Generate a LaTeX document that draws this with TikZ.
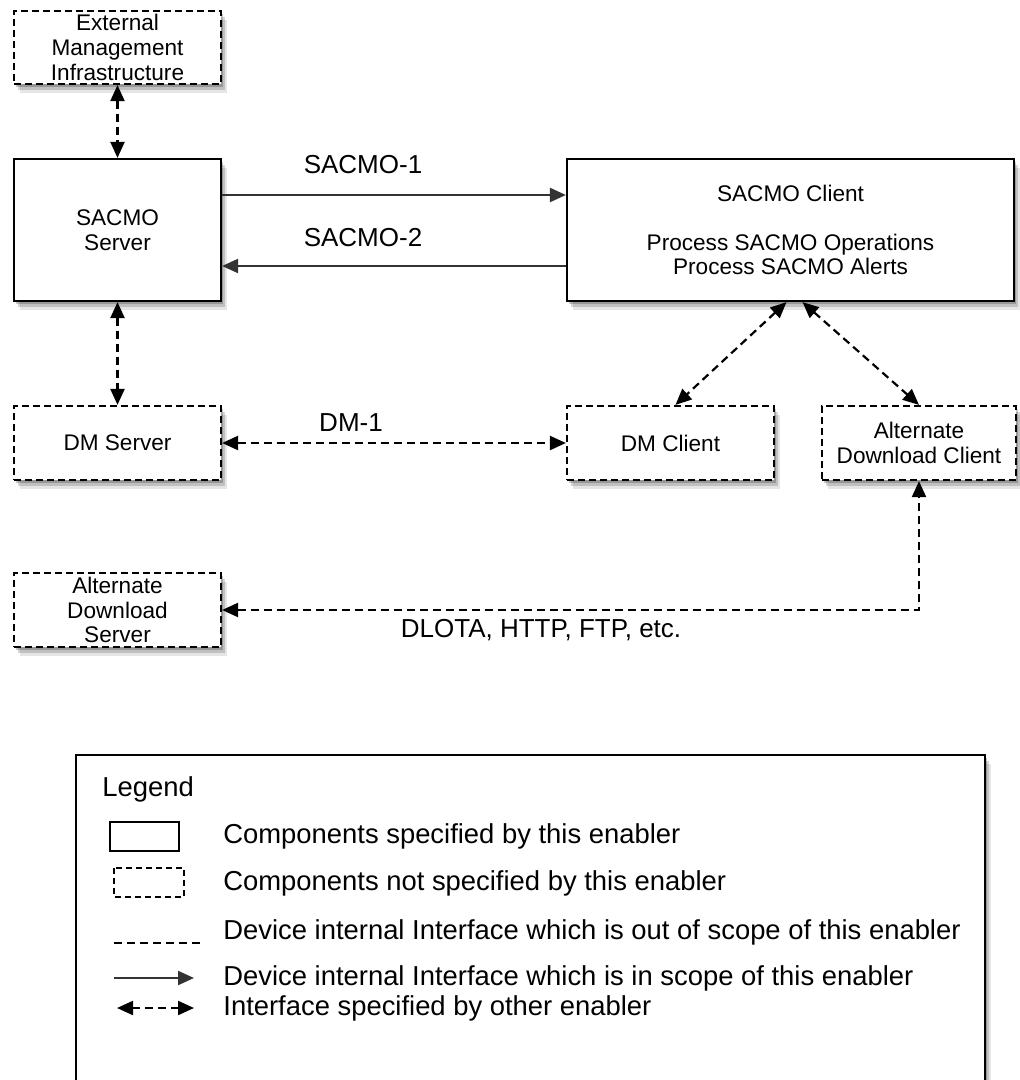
\documentclass[tikz,border=0pt]{standalone}
\usepackage{fontspec}
\setmainfont{Liberation Sans}
\usetikzlibrary{positioning,arrows.meta,calc,shadows}
\tikzset{
  boxfont/.style={font=\fontsize{11.3}{12.3}\selectfont},
  softshade/.style={
    drop shadow={shadow xshift=1pt, shadow yshift=-1.5pt, opacity=.22, fill=black},
    drop shadow={shadow xshift=2pt, shadow yshift=-3pt, opacity=.16, fill=black},
    drop shadow={shadow xshift=3pt, shadow yshift=-4.5pt, opacity=.10, fill=black}},
  spec/.style={rectangle, draw, line width=1.1pt, fill=white, inner sep=0pt,
               align=center, boxfont, softshade},
  nospec/.style={spec, dash pattern=on 3.5pt off 2pt},
  lab/.style={font=\fontsize{13}{15.6}\selectfont},
  inscope/.style={line width=1.1pt, draw=black!80, -{Triangle[length=8pt,width=7pt]}},
  other/.style={line width=1.1pt, dash pattern=on 4pt off 2.5pt,
                {Triangle[length=8pt,width=7pt]}-{Triangle[length=8pt,width=7pt]}},
  legtxt/.style={anchor=west, inner sep=0pt, font=\fontsize{13.7}{16}\selectfont},
}

\begin{document}
\begin{tikzpicture}[x=0.5pt, y=-0.5pt]
  \useasboundingbox (0,0) rectangle (1019,1080);
  % components
  \node[nospec, minimum width=103.5pt, minimum height=36.5pt] (emi) at (117.5,47.5)
       {External\\Management\\Infrastructure};
  \node[spec, minimum width=103.5pt, minimum height=71pt] (sserver) at (117.5,230)
       {SACMO\\Server};
  \node[spec, minimum width=223.5pt, minimum height=71pt] (sclient) at (790.5,230)
       {SACMO Client\\[12.3pt]Process SACMO Operations\\Process SACMO Alerts};
  \node[nospec, minimum width=103.5pt, minimum height=37pt] (dmserver) at (117.5,443)
       {DM Server};
  \node[nospec, minimum width=103.5pt, minimum height=37pt] (dmclient) at (670.5,443)
       {DM Client};
  \node[nospec, minimum width=97pt, minimum height=37pt] (adclient) at (919,443)
       {Alternate\\Download Client};
  \node[nospec, minimum width=103.5pt, minimum height=37pt] (adserver) at (117.5,610)
       {Alternate\\Download\\Server};
  % SACMO interfaces
  \draw[inscope] ([yshift=17.5pt]sserver.east) -- ([yshift=17.5pt]sclient.west);
  \draw[inscope] ([yshift=-18pt]sclient.west) -- ([yshift=-18pt]sserver.east);
  \node[lab] (sacmo1) at (363,165) {SACMO-1};
  \node[lab] (sacmo2) at (363,238) {SACMO-2};
  % other enablers
  \draw[other] (emi) -- (sserver);
  \draw[other] (sserver) -- (dmserver);
  \draw[other] (dmserver) -- (dmclient);
  \node[lab] (dm1) at (351,423) {DM-1};
  \draw[other] ([xshift=-2pt]sclient.south) -- ([xshift=2.5pt]dmclient.north);
  \draw[other] ([xshift=6pt]sclient.south) -- (adclient.north);
  \draw[other] (adserver.east) -| (adclient.south);
  \node[lab] (dlota) at (541,630) {DLOTA, HTTP, FTP, etc.};
  % legend
  \draw[line width=1.1pt, fill=white, softshade] (76,755) rectangle (985,1095);
  \node[legtxt] (legend) at (102,789) {Legend};
  \draw[line width=1.1pt] (110,822) rectangle (179,851);
  \node[legtxt] (lg1) at (223,836) {Components specified by this enabler};
  \draw[line width=1.1pt, dash pattern=on 3pt off 2pt] (114,868) rectangle (184,897);
  \node[legtxt] (lg2) at (223,883) {Components not specified by this enabler};
  \draw[line width=1.1pt, dash pattern=on 4pt off 2.5pt] (114,943) -- (200,943);
  \node[legtxt] (lg3) at (223,932) {Device internal Interface which is out of scope of this enabler};
  \draw[inscope] (114,978) -- (194,978);
  \node[legtxt] (lg4) at (223,978) {Device internal Interface which is in scope of this enabler};
  \draw[other] (117,1008) -- (194,1008);
  \node[legtxt] (lg5) at (223,1008) {Interface specified by other enabler};
\end{tikzpicture}
\end{document}
